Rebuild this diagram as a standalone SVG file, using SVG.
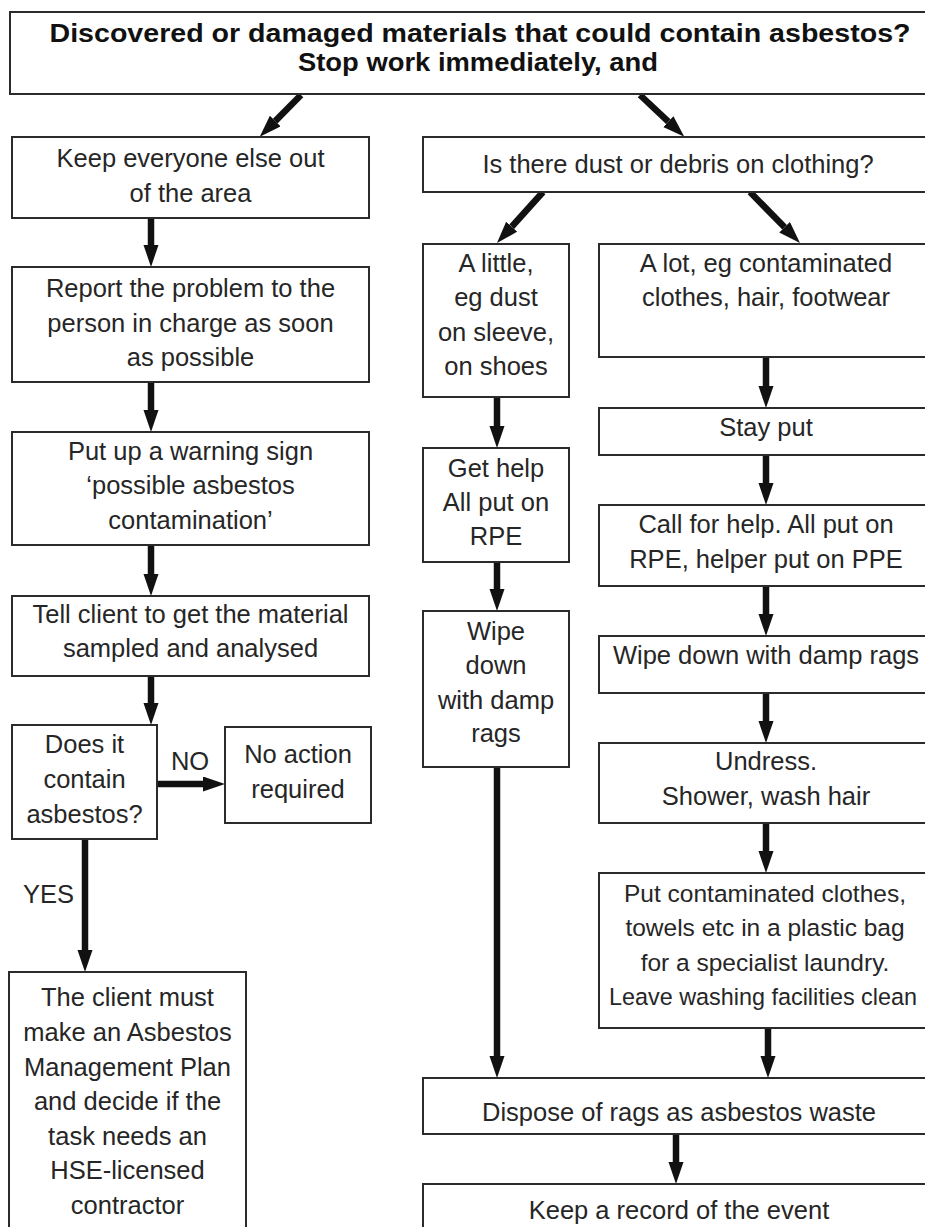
<svg xmlns="http://www.w3.org/2000/svg" width="925" height="1227" viewBox="0 0 925 1227">
<defs>
<style>
.box{fill:#fff;stroke:#2b2b2b;stroke-width:2}
.t{font-family:"Liberation Sans",Arial,sans-serif;font-size:25.5px;fill:#262626;text-anchor:middle}
.s{font-size:24.5px}
.title{font-family:"Liberation Sans",Arial,sans-serif;font-size:25px;font-weight:bold;fill:#111;text-anchor:middle}
.lbl{font-family:"Liberation Sans",Arial,sans-serif;font-size:25.5px;fill:#262626}
.c{fill:none;stroke:#111;stroke-width:6.5;marker-end:url(#ah)}
</style>
<marker id="ah" markerUnits="userSpaceOnUse" markerWidth="24" markerHeight="16" refX="0" refY="7.5" orient="auto">
<path d="M0,0 L22,7.5 L0,15 Z" fill="#111"/>
</marker>
</defs>
<rect width="925" height="1227" fill="#fff"/>

<g id="connectors">
<path class="c" d="M301,95 L275.2,121.1"/>
<path class="c" d="M640,95 L668.3,121.6"/>
<path class="c" d="M151,218 V245"/>
<path class="c" d="M151,382 V410"/>
<path class="c" d="M151,545 V574"/>
<path class="c" d="M151,676 V703"/>
<path class="c" d="M157,784 H203"/>
<path class="c" d="M85,839 V950"/>
<path class="c" d="M543,192 L511.7,226.7"/>
<path class="c" d="M750,192 L784.6,227.3"/>
<path class="c" d="M497,397 V426"/>
<path class="c" d="M497,562 V589"/>
<path class="c" d="M497,767 V1056"/>
<path class="c" d="M766,357 V386"/>
<path class="c" d="M766,455 V483"/>
<path class="c" d="M766,586 V614"/>
<path class="c" d="M766,693 V721"/>
<path class="c" d="M766,823 V851"/>
<path class="c" d="M768,1028 V1056"/>
<path class="c" d="M676,1134 V1162"/>
<text class="lbl" x="190" y="770" text-anchor="middle">NO</text>
<text class="lbl" x="23" y="903">YES</text>
</g>

<g id="n-start">
<rect class="box" x="10" y="12" width="935" height="82"/>
<text class="title" x="480" y="42" textLength="861" lengthAdjust="spacingAndGlyphs">Discovered or damaged materials that could contain asbestos?</text>
<text class="title" x="478" y="71" textLength="360" lengthAdjust="spacingAndGlyphs">Stop work immediately, and</text>
</g>

<g id="n-keep-out">
<rect class="box" x="12" y="137" width="357" height="81"/>
<text class="t" x="190.5" y="167">Keep everyone else out</text>
<text class="t" x="190.5" y="202">of the area</text>
</g>

<g id="n-report">
<rect class="box" x="12" y="267" width="357" height="115"/>
<text class="t" x="190.5" y="297">Report the problem to the</text>
<text class="t" x="190.5" y="332">person in charge as soon</text>
<text class="t" x="190.5" y="366">as possible</text>
</g>

<g id="n-sign">
<rect class="box" x="12" y="432" width="357" height="113"/>
<text class="t" x="190.5" y="460">Put up a warning sign</text>
<text class="t" x="190.5" y="494">‘possible asbestos</text>
<text class="t" x="190.5" y="529">contamination’</text>
</g>

<g id="n-sample">
<rect class="box" x="12" y="596" width="357" height="80"/>
<text class="t" x="190.5" y="623">Tell client to get the material</text>
<text class="t" x="190.5" y="657">sampled and analysed</text>
</g>

<g id="n-contain">
<rect class="box" x="12" y="725" width="145" height="114"/>
<text class="t" x="84.5" y="753">Does it</text>
<text class="t" x="84.5" y="788">contain</text>
<text class="t" x="84.5" y="823">asbestos?</text>
</g>

<g id="n-no-action">
<rect class="box" x="225" y="727" width="146" height="96"/>
<text class="t" x="298" y="763">No action</text>
<text class="t" x="298" y="798">required</text>
</g>

<g id="n-plan">
<rect class="box" x="9" y="972" width="237" height="270"/>
<text class="t" x="127.5" y="1006">The client must</text>
<text class="t" x="127.5" y="1041">make an Asbestos</text>
<text class="t" x="127.5" y="1075.5">Management Plan</text>
<text class="t" x="127.5" y="1110">and decide if the</text>
<text class="t" x="127.5" y="1144.5">task needs an</text>
<text class="t" x="127.5" y="1179">HSE-licensed</text>
<text class="t" x="127.5" y="1213.5">contractor</text>
</g>

<g id="n-dust">
<rect class="box" x="423" y="137" width="520" height="55"/>
<text class="t" x="678" y="173">Is there dust or debris on clothing?</text>
</g>

<g id="n-little">
<rect class="box" x="423" y="244" width="146" height="153"/>
<text class="t" x="496" y="272">A little,</text>
<text class="t" x="496" y="306">eg dust</text>
<text class="t" x="496" y="341">on sleeve,</text>
<text class="t" x="496" y="375">on shoes</text>
</g>

<g id="n-lot">
<rect class="box" x="599" y="244" width="340" height="113"/>
<text class="t" x="766" y="272">A lot, eg contaminated</text>
<text class="t" x="766" y="306">clothes, hair, footwear</text>
</g>

<g id="n-stay">
<rect class="box" x="599" y="408" width="340" height="47"/>
<text class="t" x="766" y="436">Stay put</text>
</g>

<g id="n-call-help">
<rect class="box" x="599" y="505" width="340" height="81"/>
<text class="t" x="766" y="533">Call for help. All put on</text>
<text class="t" x="766" y="568">RPE, helper put on PPE</text>
</g>

<g id="n-get-help">
<rect class="box" x="423" y="448" width="146" height="114"/>
<text class="t" x="496" y="477">Get help</text>
<text class="t" x="496" y="511">All put on</text>
<text class="t" x="496" y="545">RPE</text>
</g>

<g id="n-wipe-small">
<rect class="box" x="423" y="611" width="146" height="156"/>
<text class="t" x="496" y="640">Wipe</text>
<text class="t" x="496" y="674">down</text>
<text class="t" x="496" y="709">with damp</text>
<text class="t" x="496" y="742">rags</text>
</g>

<g id="n-wipe-big">
<rect class="box" x="599" y="636" width="340" height="57"/>
<text class="t" x="766" y="664">Wipe down with damp rags</text>
</g>

<g id="n-undress">
<rect class="box" x="599" y="743" width="340" height="80"/>
<text class="t" x="766" y="770">Undress.</text>
<text class="t" x="766" y="805">Shower, wash hair</text>
</g>

<g id="n-bag">
<rect class="box" x="599" y="873" width="340" height="155"/>
<text class="t s" x="765" y="902">Put contaminated clothes,</text>
<text class="t s" x="765" y="936">towels etc in a plastic bag</text>
<text class="t s" x="765" y="971">for a specialist laundry.</text>
<text class="t s" x="763" y="1005" textLength="308" lengthAdjust="spacingAndGlyphs">Leave washing facilities clean</text>
</g>

<g id="n-dispose">
<rect class="box" x="423" y="1078" width="520" height="56"/>
<text class="t" x="679" y="1121">Dispose of rags as asbestos waste</text>
</g>

<g id="n-record">
<rect class="box" x="423" y="1184" width="520" height="60"/>
<text class="t" x="679" y="1219">Keep a record of the event</text>
</g>
</svg>
